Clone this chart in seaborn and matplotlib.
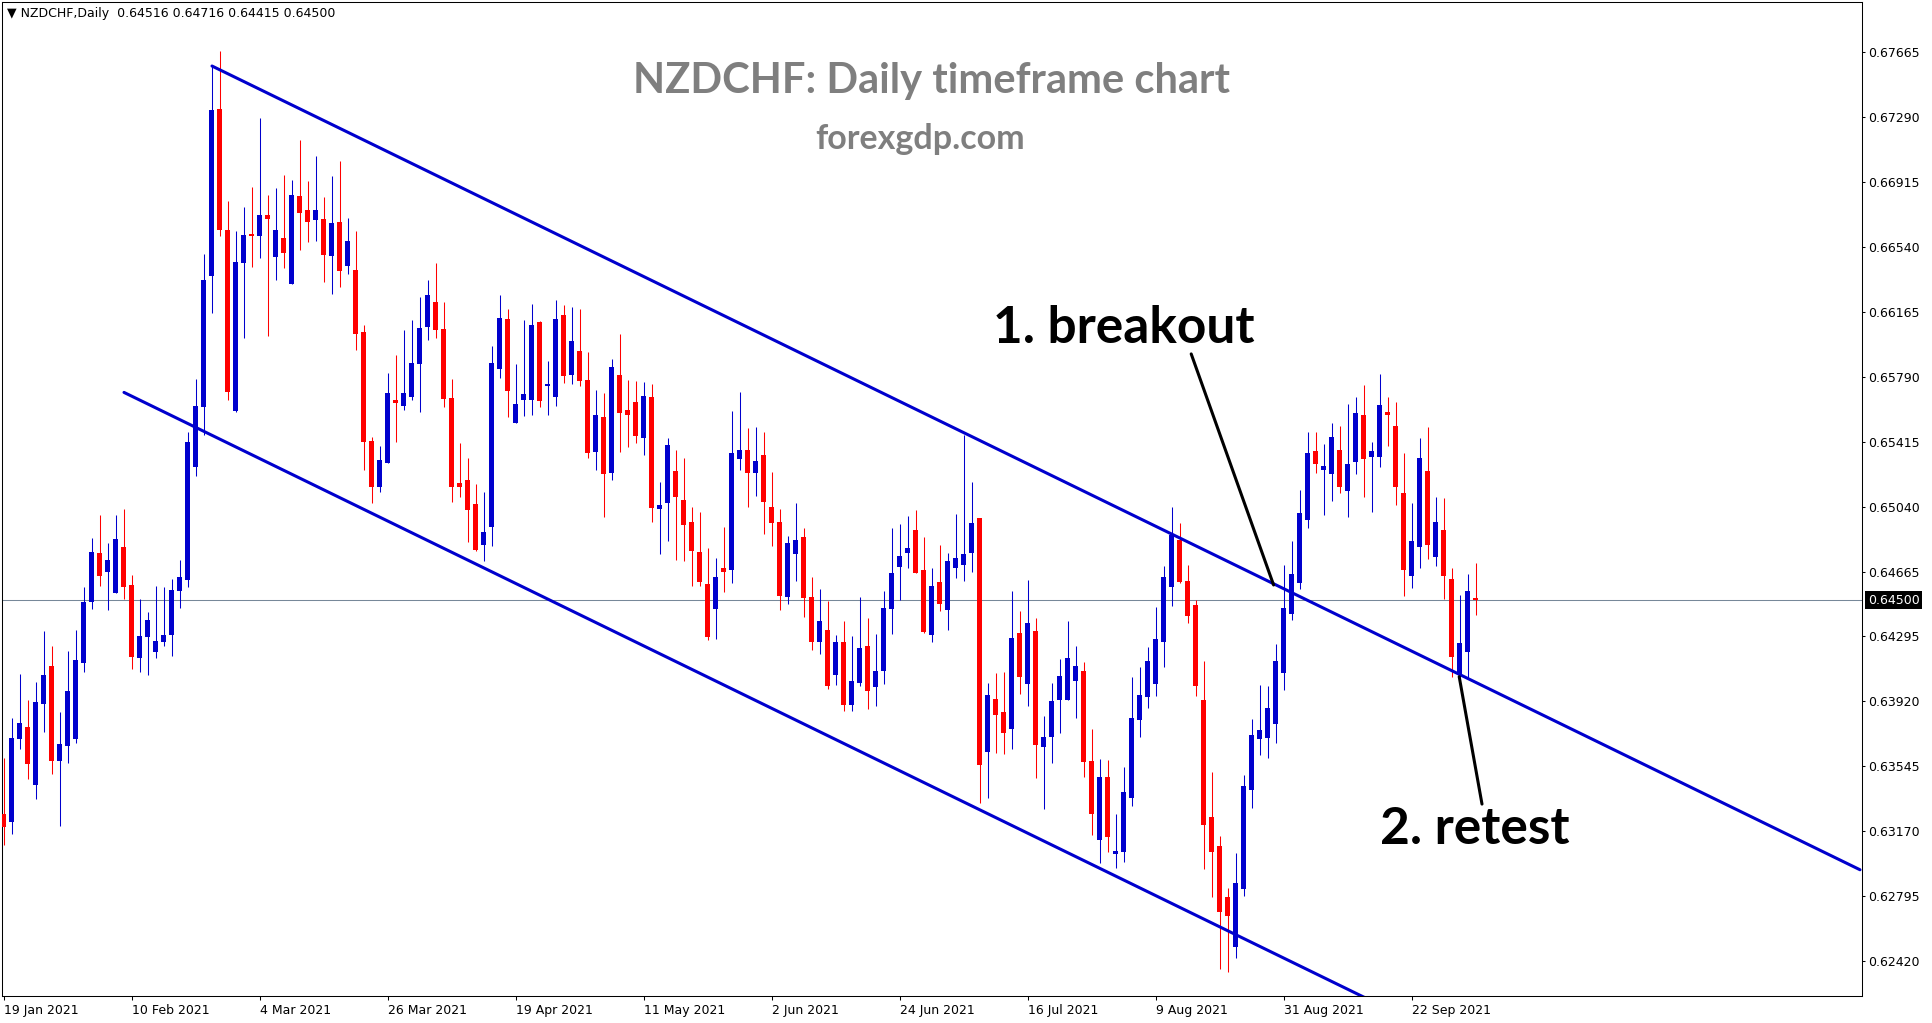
import numpy as np
import pandas as pd
import matplotlib
matplotlib.use('Agg')
import matplotlib.pyplot as plt
import matplotlib.transforms as mtransforms
import seaborn as sns

# daily candles (19 Jan 2021 .. 4 Oct 2021)
opens = [0.63268, 0.63223, 0.63702, 0.63770, 0.63437, 0.63904, 0.64122, 0.63575, 0.63662, 0.63702,
         0.64141, 0.64493, 0.64773, 0.64666, 0.64544, 0.64808, 0.64589, 0.64169, 0.64291, 0.64204,
         0.64262, 0.64302, 0.64556, 0.64619, 0.65271, 0.65618, 0.66373, 0.67335, 0.66637, 0.65594,
         0.66448, 0.66616, 0.66604, 0.66723, 0.66483, 0.66591, 0.66327, 0.66833, 0.66752, 0.66696,
         0.66700, 0.66489, 0.66683, 0.66431, 0.66406, 0.66048, 0.65420, 0.65156, 0.65294, 0.65656,
         0.65622, 0.65673, 0.65864, 0.66077, 0.66222, 0.66066, 0.65668, 0.65177, 0.65195, 0.65056,
         0.64820, 0.64923, 0.65835, 0.66123, 0.65523, 0.65656, 0.65656, 0.66106, 0.65737, 0.65673,
         0.66147, 0.65800, 0.65939, 0.65772, 0.65358, 0.65558, 0.65237, 0.65800, 0.65598, 0.65645,
         0.65439, 0.65673, 0.65029, 0.65064, 0.65247, 0.65079, 0.64952, 0.64781, 0.64595, 0.64452,
         0.64687, 0.64677, 0.65318, 0.65369, 0.65237, 0.65339, 0.65039, 0.64952, 0.64521, 0.64769,
         0.64866, 0.64520, 0.64262, 0.64329, 0.64071, 0.64260, 0.63898, 0.64025, 0.64237, 0.64002,
         0.64094, 0.64452, 0.64694, 0.64775, 0.64906, 0.64675, 0.64302, 0.64606, 0.64446, 0.64689,
         0.64706, 0.64775, 0.64975, 0.63627, 0.63933, 0.63858, 0.63760, 0.64312, 0.64019, 0.64325,
         0.63656, 0.63714, 0.63927, 0.63927, 0.64037, 0.64094, 0.63575, 0.63119, 0.63483, 0.63039,
         0.63050, 0.63362, 0.63812, 0.63944, 0.64019, 0.64262, 0.64579, 0.64850, 0.64614, 0.64475,
         0.63927, 0.63252, 0.63085, 0.62791, 0.62502, 0.62837, 0.63408, 0.63702, 0.63708, 0.63789,
         0.64083, 0.64423, 0.64602, 0.64966, 0.65362, 0.65254, 0.65231, 0.65368, 0.65133, 0.65300,
         0.65570, 0.65329, 0.65329, 0.65587, 0.65506, 0.65120, 0.64643, 0.64810, 0.65247, 0.64752,
         0.64906, 0.64623, 0.64077, 0.64204, 0.64516]
highs = [0.63589, 0.63820, 0.64075, 0.63925, 0.64029, 0.64323, 0.64237, 0.63856, 0.64206, 0.64329,
         0.64577, 0.64860, 0.64993, 0.64831, 0.64993, 0.65027, 0.64647, 0.64508, 0.64433, 0.64583,
         0.64577, 0.64623, 0.64733, 0.65473, 0.65776, 0.66498, 0.67583, 0.67670, 0.66804, 0.66631,
         0.66770, 0.66885, 0.67283, 0.66839, 0.66879, 0.66954, 0.66925, 0.67156, 0.66920, 0.67064,
         0.66827, 0.66948, 0.67035, 0.66706, 0.66631, 0.66089, 0.65443, 0.65391, 0.65812, 0.65916,
         0.66060, 0.66118, 0.66250, 0.66348, 0.66447, 0.66222, 0.65777, 0.65408, 0.65322, 0.65172,
         0.65125, 0.65968, 0.66262, 0.66181, 0.65864, 0.66118, 0.66210, 0.66112, 0.65881, 0.66233,
         0.66204, 0.66193, 0.66181, 0.65933, 0.65714, 0.65697, 0.65893, 0.66037, 0.65772, 0.65766,
         0.65760, 0.65748, 0.65183, 0.65437, 0.65368, 0.65322, 0.65039, 0.65010, 0.64801, 0.64745,
         0.64923, 0.65593, 0.65702, 0.65495, 0.65500, 0.65472, 0.65241, 0.65027, 0.64872, 0.65062,
         0.64918, 0.64637, 0.64566, 0.64498, 0.64300, 0.64381, 0.64295, 0.64520, 0.64398, 0.64306,
         0.64554, 0.64918, 0.64941, 0.64987, 0.65022, 0.64866, 0.64689, 0.64820, 0.64773, 0.64998,
         0.65454, 0.65183, 0.64975, 0.64025, 0.64083, 0.64089, 0.64556, 0.64441, 0.64619, 0.64400,
         0.63835, 0.64025, 0.64164, 0.64383, 0.64239, 0.64146, 0.63760, 0.63587, 0.63581, 0.63269,
         0.63541, 0.64060, 0.64118, 0.64233, 0.64464, 0.64700, 0.65039, 0.64948, 0.64706, 0.64504,
         0.64152, 0.63512, 0.63143, 0.62843, 0.63044, 0.63494, 0.63818, 0.64014, 0.64008, 0.64250,
         0.64706, 0.64844, 0.65139, 0.65472, 0.65472, 0.65402, 0.65523, 0.65506, 0.65633, 0.65673,
         0.65743, 0.65414, 0.65806, 0.65673, 0.65645, 0.65350, 0.65062, 0.65437, 0.65500, 0.65097,
         0.65091, 0.64687, 0.64533, 0.64652, 0.64716]
lows = [0.63089, 0.63151, 0.63644, 0.63468, 0.63356, 0.63743, 0.63500, 0.63200, 0.63564, 0.63679,
        0.64089, 0.64452, 0.64585, 0.64446, 0.64544, 0.64510, 0.64106, 0.64089, 0.64071, 0.64169,
        0.64239, 0.64181, 0.64458, 0.64579, 0.65219, 0.65454, 0.66160, 0.66604, 0.65656, 0.65589,
        0.66016, 0.66425, 0.66477, 0.66027, 0.66350, 0.66419, 0.66327, 0.66523, 0.66569, 0.66575,
        0.66339, 0.66269, 0.66310, 0.66385, 0.65946, 0.65254, 0.65064, 0.65127, 0.65294, 0.65416,
        0.65598, 0.65656, 0.65587, 0.66002, 0.66014, 0.65616, 0.65068, 0.65097, 0.64837, 0.64785,
        0.64727, 0.64814, 0.65783, 0.65558, 0.65523, 0.65564, 0.65570, 0.65616, 0.65570, 0.65622,
        0.65754, 0.65748, 0.65737, 0.65322, 0.65252, 0.64983, 0.65196, 0.65358, 0.65387, 0.65410,
        0.65341, 0.64954, 0.64769, 0.64844, 0.64735, 0.64729, 0.64585, 0.64585, 0.64270, 0.64279,
        0.64547, 0.64602, 0.65254, 0.65041, 0.65104, 0.64885, 0.64816, 0.64446, 0.64481, 0.64614,
        0.64406, 0.64216, 0.64193, 0.63991, 0.64014, 0.63864, 0.63864, 0.64008, 0.63875, 0.63893,
        0.64019, 0.64308, 0.64504, 0.64689, 0.64660, 0.64314, 0.64262, 0.64441, 0.64331, 0.64631,
        0.64614, 0.64666, 0.63333, 0.63362, 0.63621, 0.63616, 0.63644, 0.63962, 0.63893, 0.63477,
        0.63298, 0.63564, 0.63737, 0.63927, 0.63823, 0.63483, 0.63148, 0.62987, 0.63050, 0.62958,
        0.62993, 0.63316, 0.63714, 0.63881, 0.63950, 0.64118, 0.64469, 0.64602, 0.64371, 0.63950,
        0.62952, 0.62791, 0.62375, 0.62358, 0.62439, 0.62796, 0.63304, 0.63610, 0.63593, 0.63679,
        0.63985, 0.64389, 0.64568, 0.64919, 0.65237, 0.64994, 0.65075, 0.65121, 0.64983, 0.65231,
        0.65098, 0.65012, 0.65271, 0.65393, 0.65052, 0.64527, 0.64573, 0.64689, 0.64741, 0.64700,
        0.64510, 0.64060, 0.64060, 0.64054, 0.64415]
closes = [0.63191, 0.63706, 0.63793, 0.63558, 0.63914, 0.64070, 0.63575, 0.63672, 0.63977, 0.64156,
          0.64491, 0.64779, 0.64643, 0.64733, 0.64854, 0.64579, 0.64175, 0.64295, 0.64387, 0.64266,
          0.64300, 0.64560, 0.64635, 0.65416, 0.65622, 0.66348, 0.67329, 0.66637, 0.65704, 0.66452,
          0.66608, 0.66604, 0.66723, 0.66702, 0.66637, 0.66506, 0.66839, 0.66737, 0.66685, 0.66752,
          0.66494, 0.66677, 0.66402, 0.66573, 0.66039, 0.65416, 0.65156, 0.65310, 0.65697, 0.65639,
          0.65697, 0.65870, 0.66072, 0.66262, 0.66060, 0.65662, 0.65154, 0.65154, 0.65022, 0.64791,
          0.64895, 0.65870, 0.66129, 0.65708, 0.65633, 0.65691, 0.66089, 0.65650, 0.65748, 0.66123,
          0.65795, 0.65997, 0.65766, 0.65352, 0.65570, 0.65231, 0.65847, 0.65583, 0.65571, 0.65450,
          0.65679, 0.65035, 0.65050, 0.65397, 0.65098, 0.64937, 0.64787, 0.64608, 0.64291, 0.64635,
          0.64666, 0.65350, 0.65369, 0.65237, 0.65304, 0.65069, 0.64948, 0.64527, 0.64831, 0.64848,
          0.64516, 0.64262, 0.64381, 0.64008, 0.64260, 0.63898, 0.64035, 0.64225, 0.63979, 0.64093,
          0.64456, 0.64658, 0.64756, 0.64802, 0.64660, 0.64319, 0.64583, 0.64481, 0.64727, 0.64745,
          0.64768, 0.64947, 0.63552, 0.63956, 0.63841, 0.63737, 0.64285, 0.64060, 0.64371, 0.63668,
          0.63714, 0.63921, 0.64066, 0.64169, 0.64123, 0.63569, 0.63269, 0.63483, 0.63137, 0.63056,
          0.63396, 0.63823, 0.63956, 0.64152, 0.64279, 0.64637, 0.64879, 0.64608, 0.64412, 0.64008,
          0.63206, 0.63050, 0.62704, 0.62681, 0.62871, 0.63431, 0.63725, 0.63754, 0.63881, 0.64152,
          0.64458, 0.64654, 0.65006, 0.65350, 0.65289, 0.65275, 0.65443, 0.65156, 0.65287, 0.65581,
          0.65318, 0.65362, 0.65627, 0.65571, 0.65156, 0.64677, 0.64843, 0.65322, 0.64821, 0.64952,
          0.64643, 0.64175, 0.64254, 0.64554, 0.64500]

date_labels = ['19 Jan 2021', '10 Feb 2021', '4 Mar 2021', '26 Mar 2021', '19 Apr 2021', '11 May 2021',
               '2 Jun 2021', '24 Jun 2021', '16 Jul 2021', '9 Aug 2021', '31 Aug 2021', '22 Sep 2021']
price_ticks = [0.67665, 0.67290, 0.66915, 0.66540, 0.66165, 0.65790, 0.65415, 0.65040,
               0.64665, 0.64295, 0.63920, 0.63545, 0.63170, 0.62795, 0.62420]
last_price = 0.64500

# trend line anchors (bar number, price)
upper_bars = [26, 232]
upper_prices = [0.67583, 0.62946]
lower_bars = [15, 232]
lower_prices = [0.65700, 0.60815]
breakout_bars = [148.4, 158.7]
breakout_prices = [0.65922, 0.64589]
retest_bars = [181.9, 184.75]
retest_prices = [0.64060, 0.63325]

BLUE = '#0000CD'
RED = '#FF0000'

sns.set_theme(style='white')
plt.rcParams['font.family'] = ['DejaVu Sans']

df = pd.DataFrame({'open': opens, 'high': highs, 'low': lows, 'close': closes})
df['date'] = pd.bdate_range('2021-01-19', periods=len(df))
df['bar'] = np.arange(len(df))
df['up'] = df['close'] >= df['open']
df['color'] = np.where(df['up'], BLUE, RED)
df['body_low'] = df[['open', 'close']].min(axis=1)
df['body_h'] = (df['close'] - df['open']).abs().clip(lower=0.00004)

W, H = 1933, 1023
fig = plt.figure(figsize=(W / 100, H / 100), dpi=100)
ax = fig.add_axes([2 / W, 1 - 996 / H, (1862 - 2) / W, (996 - 2) / H])

# wicks then bodies
ax.vlines(df['bar'], df['low'], df['high'], colors=df['color'], linewidth=0.75, zorder=2)
ax.bar(df['bar'], df['body_h'], bottom=df['body_low'], width=0.625, color=df['color'],
       linewidth=0, zorder=3)

# channel
lines = pd.DataFrame({'bar': upper_bars + lower_bars,
                      'price': upper_prices + lower_prices,
                      'line': ['upper', 'upper', 'lower', 'lower']})
sns.lineplot(data=lines, x='bar', y='price', units='line', estimator=None,
             color=BLUE, linewidth=2.2, ax=ax, zorder=4)

ax.axhline(last_price, color='#778899', linewidth=0.75, zorder=1)

ax.plot(breakout_bars, breakout_prices, color='black', linewidth=2.2, zorder=5)
ax.plot(retest_bars, retest_prices, color='black', linewidth=2.2, zorder=5)

ax.text(140.0, 0.65985, '1. breakout', ha='center', va='baseline', fontsize=37,
        fontweight='bold', family='Lato', color='black')
ax.text(183.9, 0.63092, '2. retest', ha='center', va='baseline', fontsize=37,
        fontweight='bold', family='Lato', color='black')

fig.text(932 / W, 1 - 93 / H, 'NZDCHF: Daily timeframe chart', ha='center', va='baseline',
         fontsize=30, fontweight='bold', family='Lato', color='#7f7f7f')
fig.text(920 / W, 1 - 149 / H, 'forexgdp.com', ha='center', va='baseline',
         fontsize=24.5, fontweight='bold', family='Lato', color='#7f7f7f')
fig.text(7 / W, 1 - 14 / H, '\u25bc NZDCHF,Daily  0.64516 0.64716 0.64415 0.64500',
         ha='left', va='center', fontsize=9, color='black')

ax.set_xlim(-0.25, 232.25)
ax.set_ylim(0.622177, 0.679523)

ax.yaxis.tick_right()
ax.set_yticks(price_ticks)
ax.set_yticklabels([f'{p:.5f}' for p in price_ticks])
ax.set_xticks(df['bar'].iloc[::16][:len(date_labels)])
ax.set_xticklabels(date_labels, ha='left')
ax.tick_params(axis='y', which='major', direction='out', length=2.2, width=0.75, pad=2.5,
               labelsize=9, colors='black', right=True, left=False)
ax.tick_params(axis='x', which='major', direction='out', length=3, width=0.75, pad=3,
               labelsize=9, colors='black', bottom=True)
ax.set_xlabel('')
ax.set_ylabel('')
for s in ax.spines.values():
    s.set_color('black')
    s.set_linewidth(0.75)

tr = mtransforms.blended_transform_factory(ax.transAxes, ax.transData)
ax.text(1 + 6 / 1860, last_price, '0.64500', transform=tr, ha='left', va='center',
        fontsize=9, color='white', clip_on=False,
        bbox=dict(boxstyle='square,pad=0.2', fc='black', ec='none'))

fig.savefig('out.png', dpi=100, facecolor='white')
